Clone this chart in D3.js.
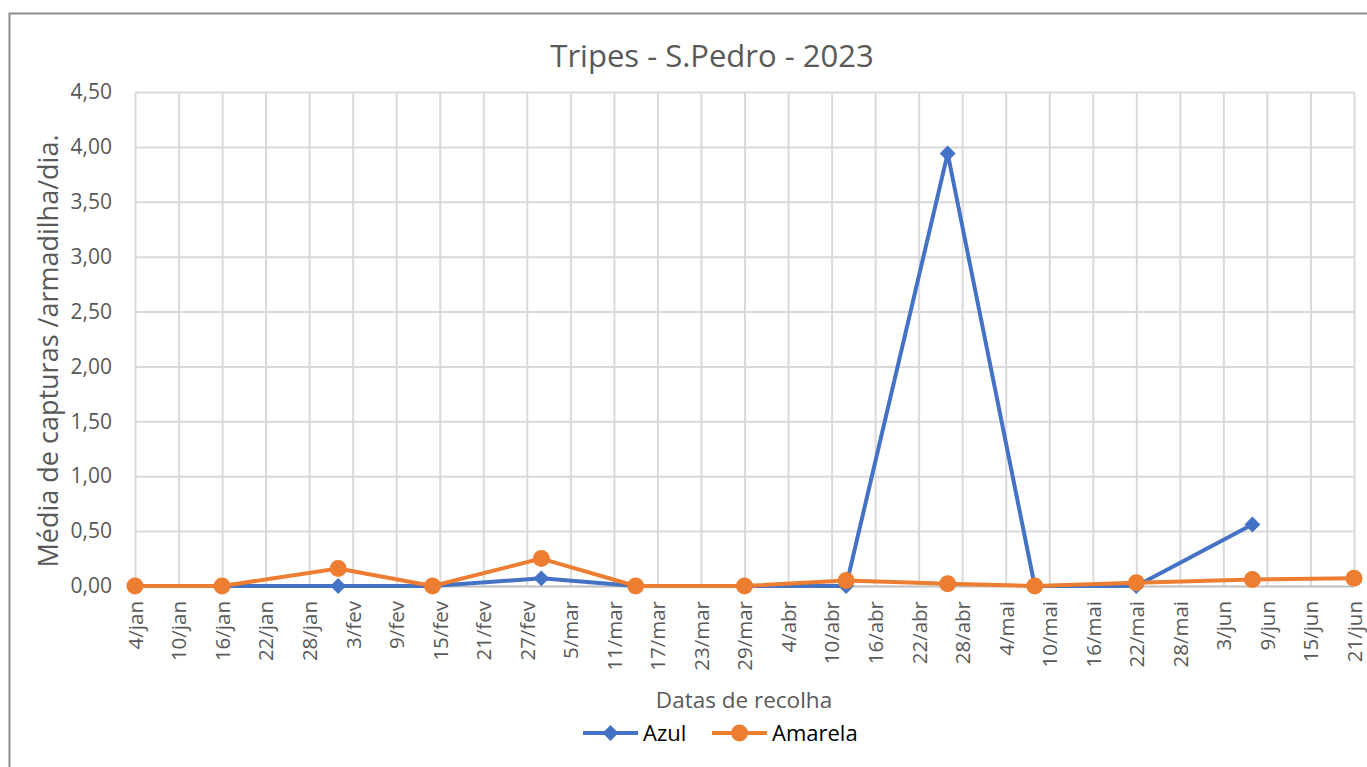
<!DOCTYPE html>
<html lang="pt">
<head>
  <meta charset="UTF-8">
  <title>Tripes - S.Pedro - 2023</title>
  <style>
    body { margin: 0; background: #fff; }
    text { font-family: "Open Sans", sans-serif; }
  </style>
</head>
<body>
  <script src="https://d3js.org/d3.v7.min.js"></script>
  <script>
    // datas de recolha e médias
    const datas = ['2023-01-04', '2023-01-16', '2023-02-01', '2023-02-14', '2023-03-01', '2023-03-14', '2023-03-29',
      '2023-04-12', '2023-04-26', '2023-05-08', '2023-05-22', '2023-06-07', '2023-06-21'];
    const azul = [0, 0, 0, 0, 0.07, 0, 0, 0, 3.94, 0, 0, 0.56, null];
    const amarela = [0, 0, 0.16, 0, 0.25, 0, 0, 0.05, 0.02, 0, 0.03, 0.06, 0.07];

    const tickDatas = ['2023-01-04', '2023-01-10', '2023-01-16', '2023-01-22', '2023-01-28', '2023-02-03', '2023-02-09',
      '2023-02-15', '2023-02-21', '2023-02-27', '2023-03-05', '2023-03-11', '2023-03-17', '2023-03-23', '2023-03-29',
      '2023-04-04', '2023-04-10', '2023-04-16', '2023-04-22', '2023-04-28', '2023-05-04', '2023-05-10', '2023-05-16',
      '2023-05-22', '2023-05-28', '2023-06-03', '2023-06-09', '2023-06-15', '2023-06-21'];
    const meses = ['jan', 'fev', 'mar', 'abr', 'mai', 'jun'];
    const yTicks = [0, 0.5, 1, 1.5, 2, 2.5, 3, 3.5, 4, 4.5];

    const width = 1367, height = 767;
    const margin = { top: 92, right: 13, bottom: 181, left: 135 };
    const corAzul = '#4472C4', corAmarela = '#ED7D31';
    const cinza = '#595959';

    const parse = d3.utcParse('%Y-%m-%d');
    const fmt = d => d.getUTCDate() + '/' + meses[d.getUTCMonth()];
    const fmtY = d => d3.format('.2f')(d).replace('.', ',');

    const svg = d3.select('body').append('svg')
      .attr('width', width).attr('height', height);

    // moldura
    svg.append('rect')
      .attr('x', 9.5).attr('y', 13.5)
      .attr('width', width + 20).attr('height', height + 20)
      .attr('fill', 'none').attr('stroke', '#8c8c8c').attr('stroke-width', 2);

    const x = d3.scaleUtc()
      .domain([parse(tickDatas[0]), parse(tickDatas[tickDatas.length - 1])])
      .range([margin.left, width - margin.right]);
    const y = d3.scaleLinear().domain([0, 4.5]).range([height - margin.bottom, margin.top]);

    // grelha
    svg.append('g')
      .attr('transform', `translate(0,${margin.top})`)
      .call(d3.axisBottom(x).tickValues(tickDatas.map(parse)).tickSize(height - margin.bottom - margin.top).tickFormat(''))
      .call(g => g.select('.domain').remove())
      .call(g => g.selectAll('line').attr('stroke', '#d9d9d9').attr('stroke-width', 2));
    svg.append('g')
      .attr('transform', `translate(${margin.left},0)`)
      .call(d3.axisRight(y).tickValues(yTicks).tickSize(width - margin.right - margin.left).tickFormat(''))
      .call(g => g.select('.domain').remove())
      .call(g => g.selectAll('line').attr('stroke', '#d9d9d9').attr('stroke-width', 2))
      .call(g => g.selectAll('.tick').filter(d => d === 0).select('line').attr('stroke', '#bfbfbf'));

    // eixo y
    svg.append('g')
      .attr('transform', `translate(${margin.left},0)`)
      .call(d3.axisLeft(y).tickValues(yTicks).tickSize(0).tickPadding(23).tickFormat(fmtY))
      .call(g => g.select('.domain').remove())
      .call(g => g.selectAll('text').attr('fill', cinza).attr('font-size', 21).attr('font-family', '"Open Sans"'));

    // eixo x
    svg.append('g')
      .attr('transform', `translate(0,${height - margin.bottom})`)
      .call(d3.axisBottom(x).tickValues(tickDatas.map(parse)).tickSize(0).tickFormat(fmt))
      .call(g => g.select('.domain').remove())
      .call(g => g.selectAll('text')
        .attr('fill', cinza).attr('font-size', 20.5).attr('font-family', '"Open Sans"')
        .attr('transform', 'rotate(-90)')
        .attr('text-anchor', 'end')
        .attr('x', -15).attr('y', 0).attr('dy', '0.36em'));

    // séries
    const pontos = serie => datas.map((d, i) => ({ data: parse(d), v: serie[i] })).filter(p => p.v != null);
    const linha = d3.line().x(p => x(p.data)).y(p => y(p.v));

    const gAzul = svg.append('g');
    gAzul.append('path').datum(pontos(azul)).attr('d', linha)
      .attr('fill', 'none').attr('stroke', corAzul).attr('stroke-width', 4).attr('stroke-linejoin', 'round');
    gAzul.selectAll('path.m').data(pontos(azul)).join('path').attr('class', 'm')
      .attr('d', d3.symbol(d3.symbolDiamond2, 160))
      .attr('transform', p => `translate(${x(p.data)},${y(p.v)})`)
      .attr('fill', corAzul);

    const gAmarela = svg.append('g');
    gAmarela.append('path').datum(pontos(amarela)).attr('d', linha)
      .attr('fill', 'none').attr('stroke', corAmarela).attr('stroke-width', 4).attr('stroke-linejoin', 'round');
    gAmarela.selectAll('circle').data(pontos(amarela)).join('circle')
      .attr('cx', p => x(p.data)).attr('cy', p => y(p.v)).attr('r', 8.5)
      .attr('fill', corAmarela);

    // títulos
    svg.append('text').attr('x', 712).attr('y', 67).attr('text-anchor', 'middle')
      .attr('font-size', 31).attr('fill', cinza).text('Tripes - S.Pedro - 2023');
    svg.append('text').attr('transform', 'translate(58,351) rotate(-90)').attr('text-anchor', 'middle')
      .attr('font-size', 27).attr('fill', cinza).text('Média de capturas /armadilha/dia.');
    svg.append('text').attr('x', 744).attr('y', 708).attr('text-anchor', 'middle')
      .attr('font-size', 22.5).attr('fill', cinza).text('Datas de recolha');

    // legenda
    const legenda = svg.append('g').attr('transform', 'translate(583,733)');
    const itens = [
      { nome: 'Azul', cor: corAzul, dx: 0 },
      { nome: 'Amarela', cor: corAmarela, dx: 129 }
    ];
    const item = legenda.selectAll('g').data(itens).join('g')
      .attr('transform', d => `translate(${d.dx},0)`);
    item.append('line').attr('x1', 0).attr('x2', 55).attr('stroke', d => d.cor).attr('stroke-width', 4);
    item.filter(d => d.nome === 'Azul').append('path')
      .attr('d', d3.symbol(d3.symbolDiamond2, 160)).attr('transform', 'translate(27.5,0)').attr('fill', corAzul);
    item.filter(d => d.nome === 'Amarela').append('circle')
      .attr('cx', 27.5).attr('r', 8.5).attr('fill', corAmarela);
    item.append('text').attr('x', 60).attr('dy', '0.36em').attr('font-size', 22).attr('fill', '#000')
      .text(d => d.nome);
  </script>
</body>
</html>
